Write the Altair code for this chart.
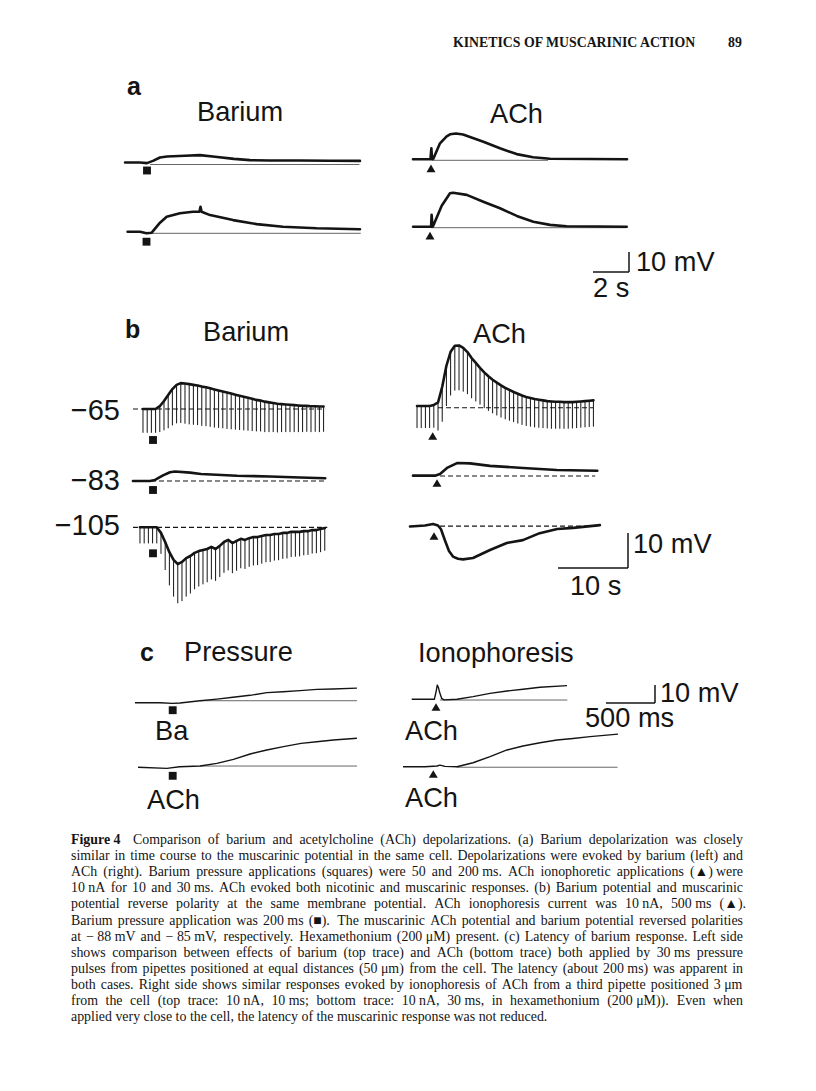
import altair as alt
import pandas as pd

# ======================= DATA =======================
# Traces: time (s) from stimulus onset, potential (mV) relative to resting level
# --- panel a
a_ba1_t = [-1.22, -0.39, 0.0, 0.33, 0.72, 1.11, 2.11, 2.94, 3.78, 4.83, 5.72, 6.83, 8.5, 10.17, 11.83]
a_ba1_v = [0, 0, -0.3, 0.8, 2.5, 3.0, 3.4, 3.7, 2.9, 1.8, 1.2, 1.0, 1.0, 0.9, 0.8]
a_ba2_t = [-1.05, -0.36, 0.0, 0.29, 0.75, 1.12, 1.86, 2.58, 2.94, 3.0, 3.06, 3.53, 4.81, 6.12, 7.58, 9.45, 11.86]
a_ba2_v = [0, 0, -0.8, -0.5, 4.5, 7.5, 9.2, 10.0, 10.0, 12.5, 10.0, 8.3, 5.8, 3.8, 2.5, 1.7, 1.2]
a_ach1_t = [-1.0, -0.11, -0.03, 0.02, 0.06, 0.13, 0.5, 0.87, 1.06, 1.39, 1.78, 2.91, 3.83, 4.76, 5.67, 6.61, 10.89]
a_ach1_v = [0, 0, 0, 5.5, 0, 0.3, 8.0, 11.5, 12.5, 12.9, 12.4, 8.8, 5.5, 2.6, 1.0, 0.3, 0]
a_ach2_t = [-0.94, 0.0, 0.06, 0.09, 0.14, 0.18, 0.65, 1.11, 1.28, 2.04, 2.96, 3.89, 4.82, 5.74, 6.67, 7.59, 10.93]
a_ach2_v = [0, 0, 0, 5.9, 0, 0.5, 10.5, 16.7, 17.0, 15.9, 12.5, 9.2, 5.4, 2.5, 0.9, 0.2, 0]

# --- panel b: traces with hyperpolarizing pulses (potential at each pulse, pulse amplitude)
PULSE_PERIOD = 0.6  # s
b_ba65_start = -1.43
b_ba65_v = [0, 0, 0, 0, 0.8, 2.3, 4.0, 5.7, 6.9, 7.4, 7.3, 7.1, 6.9, 6.7, 6.4, 6.2, 5.9, 5.6, 5.3, 5.0,
            4.7, 4.4, 4.1, 3.8, 3.5, 3.2, 2.9, 2.6, 2.4, 2.1, 1.9, 1.7, 1.5, 1.4, 1.3, 1.2, 1.1, 1.0,
            0.9, 0.9, 0.8, 0.8, 0.7, 0.7]
b_ba65_amp = [6.8, 6.8, 6.8, 6.8, 7.4, 8.4, 9.5, 10.4, 11.0, 11.4, 11.5, 11.5, 11.4, 11.3, 11.2, 11.1,
              11.0, 10.9, 10.7, 10.5, 10.4, 10.2, 10.0, 9.8, 9.6, 9.4, 9.2, 9.0, 8.8, 8.7, 8.5, 8.3,
              8.2, 8.0, 7.9, 7.8, 7.7, 7.6, 7.5, 7.4, 7.4, 7.3, 7.3, 7.2]
b_ba105_start = -1.86
b_ba105_v = [0, 0, 0, 0, 0, -1.6, -4.2, -7.1, -9.3, -10.5, -9.9, -8.8, -8.2, -7.3, -6.8, -6.5, -6.2,
             -5.6, -6.2, -5.3, -4.2, -3.6, -4.5, -3.9, -3.3, -3.6, -3.1, -2.8, -2.8, -2.5, -2.2, -2.2,
             -1.9, -1.9, -1.6, -1.6, -1.3, -1.3, -1.3, -1.1, -1.1, -0.8, -0.8, -0.5, -0.2]
b_ba105_amp = [4.6, 4.6, 4.6, 4.6, 4.6, 6.0, 8.0, 9.5, 10.5, 11.2, 11.2, 11.0, 10.7, 10.4, 10.1, 9.8,
               9.5, 9.3, 9.1, 8.9, 8.8, 8.7, 8.6, 8.5, 8.4, 8.3, 8.2, 8.1, 8.0, 7.9, 7.8, 7.7, 7.6,
               7.5, 7.4, 7.3, 7.2, 7.1, 7.0, 6.9, 6.8, 6.7, 6.6, 6.6, 6.5]
b_ach65_start = -2.24
b_ach65_v = [0, 0, 0, 0, 0.3, 1.0, 5.5, 11.5, 15.5, 17.2, 17.3, 16.6, 15.4, 13.7, 12.3, 10.9, 9.6,
             8.5, 7.5, 6.7, 5.9, 5.2, 4.6, 4.0, 3.5, 3.0, 2.6, 2.3, 2.0, 1.8, 1.6, 1.4, 1.3, 1.2, 1.2,
             1.1, 1.1, 1.1, 1.2, 1.3, 1.4, 1.5, 1.6]
b_ach65_amp = [6.3, 6.3, 6.3, 6.3, 6.5, 8.0, 10.0, 11.5, 12.5, 12.8, 12.8, 12.5, 12.0, 11.5, 11.0,
               10.5, 10.2, 9.9, 9.6, 9.4, 9.2, 9.0, 8.8, 8.6, 8.5, 8.4, 8.3, 8.2, 8.1, 8.0, 7.9, 7.8,
               7.8, 7.7, 7.7, 7.6, 7.6, 7.5, 7.5, 7.5, 7.5, 7.5, 7.5]
b_ba83_t = [-2.86, -0.43, 0.29, 1.43, 2.43, 3.14, 5.3, 6.86, 12.0, 16.7, 21.0, 24.6]
b_ba83_v = [0, 0, 0.3, 1.6, 2.5, 2.7, 2.4, 2.0, 1.5, 1.3, 1.0, 0.8]
b_ach83_t = [-3.43, -0.29, 0.43, 1.43, 2.86, 4.71, 7.57, 12.3, 17.1, 22.9]
b_ach83_v = [0.1, 0.1, 0.6, 2.3, 3.7, 3.6, 2.9, 2.3, 1.7, 1.5]
b_ach105_t = [-3.43, -1.29, -0.14, 0.57, 1.0, 1.57, 2.14, 2.71, 3.43, 4.14, 5.57, 8.0, 10.4, 12.7, 15.1, 17.6, 19.9, 23.7]
b_ach105_v = [0, 0.3, 0.7, 0.3, -0.8, -4.0, -7.0, -8.6, -9.2, -9.4, -9.0, -6.7, -4.7, -3.9, -1.9, -0.7, -0.4, 0.4]

# --- panel c
c_ba_t = [-0.385, -0.13, 0.0, 0.074, 0.279, 0.452, 0.615, 0.789, 0.962, 1.126, 1.299, 1.472, 1.636, 1.88]
c_ba_v = [0, 0, -0.4, -0.2, 1.1, 2.0, 3.0, 4.1, 5.6, 6.1, 6.7, 7.4, 7.6, 8.1]
c_ach_t = [-0.354, -0.06, 0.07, 0.28, 0.45, 0.62, 0.79, 0.96, 1.13, 1.31, 1.47, 1.64, 1.88]
c_ach_v = [0, -0.6, 0.3, 0.7, 2.2, 4.4, 7.4, 9.6, 11.5, 13.3, 14.2, 15.2, 16.1]
c_io1_t = [-0.248, -0.061, -0.017, 0.0, 0.013, 0.025, 0.036, 0.058, 0.082, 0.214, 0.378, 0.551, 0.724, 0.888, 1.061, 1.337]
c_io1_v = [0, 0, 0, 4.0, 7.9, 6.5, 4.0, 0.5, -0.3, 0, 1.5, 3.3, 4.6, 5.6, 6.7, 7.6]
c_io2_t = [-0.309, -0.085, 0.038, 0.068, 0.119, 0.242, 0.405, 0.579, 0.752, 0.915, 1.089, 1.262, 1.426, 1.599, 1.885]
c_io2_v = [0, 0, 0.4, 0.9, 0.2, 0, 2.2, 5.6, 9.3, 11.5, 13.3, 14.8, 15.7, 16.7, 18.1]

# reference lines: (trace, t start, t end, level mV)
dashed_refs = [("b_ba65", -2.86, 24.6, 0), ("b_ba83", -2.57, 24.6, 0), ("b_ba105", -2.86, 24.9, 0),
               ("b_ach65", 0.76, 22.9, -0.5), ("b_ach83", 0.43, 22.6, 0), ("b_ach105", 0.86, 23.7, 0.1)]
solid_refs = [("a_ba1", 0.17, 11.8, -1.0), ("a_ba2", 0.2, 11.9, -0.8), ("a_ach1", 0.06, 6.5, -0.5),
              ("a_ach2", 0.06, 10.9, -0.5), ("c_ba", 0.28, 1.88, 1.1), ("c_ach", 0.28, 1.88, 0.7),
              ("c_io1", 0.04, 1.34, -0.4), ("c_io2", 0.24, 1.88, -0.3)]
# stimulus: square = pressure (barium), triangle = ionophoresis (ACh)
stim_shape = {"a_ba1": "square", "a_ba2": "square", "a_ach1": "triangle-up", "a_ach2": "triangle-up",
              "b_ba65": "square", "b_ba83": "square", "b_ba105": "square",
              "b_ach65": "triangle-up", "b_ach83": "triangle-up", "b_ach105": "triangle-up",
              "c_ba": "square", "c_ach": "square", "c_io1": "triangle-up", "c_io2": "triangle-up"}
# calibration bars (s, mV)
scalebars = {"a": (2.0, 10.0), "b": (10.0, 10.0), "c": (0.5, 10.0)}

panel_letters = ["a", "b", "c"]
titles = ["Barium", "ACh", "Barium", "ACh", "Pressure", "Ionophoresis"]
holding = ["\u221265", "\u221283", "\u2212105"]
bar_labels = ["10 mV", "2 s", "10 mV", "10 s", "10 mV", "500 ms"]
c_labels = ["Ba", "ACh", "ACh", "ACh"]
header = ["KINETICS OF MUSCARINIC ACTION", "89"]
caption_head = "Figure 4"
caption_lines = [
    "Comparison of barium and acetylcholine (ACh) depolarizations. (a) Barium depolarization was closely",
    "similar in time course to the muscarinic potential in the same cell. Depolarizations were evoked by barium (left) and",
    "ACh (right). Barium pressure applications (squares) were 50 and 200\u2009ms. ACh ionophoretic applications (\u25b2) were",
    "10\u2009nA for 10 and 30\u2009ms. ACh evoked both nicotinic and muscarinic responses. (b) Barium potential and muscarinic",
    "potential reverse polarity at the same membrane potential. ACh ionophoresis current was 10\u2009nA, 500\u2009ms (\u25b2).",
    "Barium pressure application was 200\u2009ms (\u25a0). The muscarinic ACh potential and barium potential reversed polarities",
    "at \u2212\u200988\u2009mV and \u2212\u200985\u2009mV, respectively. Hexamethonium (200\u2009\u03bcM) present. (c) Latency of barium response. Left side",
    "shows comparison between effects of barium (top trace) and ACh (bottom trace) both applied by 30\u2009ms pressure",
    "pulses from pipettes positioned at equal distances (50\u2009\u03bcm) from the cell. The latency (about 200\u2009ms) was apparent in",
    "both cases. Right side shows similar responses evoked by ionophoresis of ACh from a third pipette positioned 3\u2009\u03bcm",
    "from the cell (top trace: 10\u2009nA, 10\u2009ms; bottom trace: 10\u2009nA, 30\u2009ms, in hexamethonium (200\u2009\u03bcM)). Even when",
    "applied very close to the cell, the latency of the muscarinic response was not reduced.",
]

# ======================= LAYOUT =======================
PANEL_SCALE = {"a": (18.0, 2.0), "b": (7.0, 3.5), "c": (98.0, 1.8)}  # px per s, px per mV
ANCHOR = {  # panel, page x of stimulus, page y of resting level
    "a_ba1": ("a", 147.0, 162.5), "a_ba2": ("a", 146.5, 231.7),
    "a_ach1": ("a", 431.0, 159.3), "a_ach2": ("a", 430.0, 226.7),
    "b_ba65": ("b", 153.0, 409.0), "b_ba83": ("b", 153.0, 481.0), "b_ba105": ("b", 153.0, 527.3),
    "b_ach65": ("b", 432.7, 406.0), "b_ach83": ("b", 437.0, 476.0), "b_ach105": ("b", 434.0, 526.5),
    "c_ba": ("c", 172.7, 702.7), "c_ach": ("c", 172.7, 767.3),
    "c_io1": ("c", 436.0, 699.3), "c_io2": ("c", 433.3, 766.7),
}
MARK_DROP = {"a_ba1": 8, "a_ba2": 10, "a_ach1": 9, "a_ach2": 9, "b_ba65": 31, "b_ba83": 9,
             "b_ba105": 26, "b_ach65": 30, "b_ach83": 7, "b_ach105": 9.5,
             "c_ba": 7.5, "c_ach": 8.5, "c_io1": 7.7, "c_io2": 7.3}
BAR_CORNER = {"a": (629, 272), "b": (628, 568), "c": (655, 703)}
SANS = "Liberation Sans, Arial, Helvetica, sans-serif"
SERIF = "Liberation Serif, Times New Roman, serif"


def page(key, t, v):
    p, x0, y0 = ANCHOR[key]
    sx, sy = PANEL_SCALE[p]
    return x0 + t * sx, y0 - v * sy


traces = {
    "a_ba1": (a_ba1_t, a_ba1_v), "a_ba2": (a_ba2_t, a_ba2_v),
    "a_ach1": (a_ach1_t, a_ach1_v), "a_ach2": (a_ach2_t, a_ach2_v),
    "b_ba83": (b_ba83_t, b_ba83_v), "b_ach83": (b_ach83_t, b_ach83_v), "b_ach105": (b_ach105_t, b_ach105_v),
    "c_ba": (c_ba_t, c_ba_v), "c_ach": (c_ach_t, c_ach_v), "c_io1": (c_io1_t, c_io1_v), "c_io2": (c_io2_t, c_io2_v),
}
pulsed = {"b_ba65": (b_ba65_start, b_ba65_v, b_ba65_amp),
          "b_ba105": (b_ba105_start, b_ba105_v, b_ba105_amp),
          "b_ach65": (b_ach65_start, b_ach65_v, b_ach65_amp)}

line_rows, pulse_rows = [], []
for key, (ts, vs) in traces.items():
    for i, (t, v) in enumerate(zip(ts, vs)):
        x, y = page(key, t, v)
        line_rows.append({"key": key, "i": i, "x": x, "y": y, "thin": key.startswith("c_")})
for key, (t0, vs, amps) in pulsed.items():
    for i, (v, a) in enumerate(zip(vs, amps)):
        t = t0 + i * PULSE_PERIOD
        x, y = page(key, t, v)
        _, y2 = page(key, t, v - a)
        line_rows.append({"key": key, "i": i, "x": x, "y": y, "thin": False})
        pulse_rows.append({"x": x, "y": y, "y2": y2})
lines_df = pd.DataFrame(line_rows)
pulse_df = pd.DataFrame(pulse_rows)


def ref_df(refs):
    rows = []
    for key, ta, tb, lv in refs:
        xa, y = page(key, ta, lv)
        xb, _ = page(key, tb, lv)
        rows.append({"x": xa, "x2": xb, "y": y})
    return pd.DataFrame(rows)


dash_df = ref_df(dashed_refs)
solid_df = ref_df(solid_refs)

mark_rows = []
for key, shp in stim_shape.items():
    x, y = page(key, 0.0, 0.0)
    mark_rows.append({"x": x, "y": y + MARK_DROP[key], "shape": shp,
                      "sz": 62 if shp == "square" else 80})
mark_df = pd.DataFrame(mark_rows)

bar_rows = []
for p, (sec, mv) in scalebars.items():
    cx, cy = BAR_CORNER[p]
    sx, sy = PANEL_SCALE[p]
    bar_rows.append({"x": cx - sec * sx, "y": cy, "x2": cx, "y2": cy})
    bar_rows.append({"x": cx, "y": cy, "x2": cx, "y2": cy - mv * sy})
bar_df = pd.DataFrame(bar_rows)

# text placements (left x, baseline y)
sans_pos = [(197, 121), (490, 123), (203, 341), (473, 343), (184, 661), (418, 662)]
bar_pos = [(636, 271), (593, 297), (633, 553), (570, 595), (660, 702), (585, 727)]
c_pos = [(155, 740), (147, 809), (405, 740), (405, 807)]
hold_pos = [(120, 420), (120, 490), (120, 535)]
letter_pos = [(127, 95), (125, 338), (140, 661)]
FS_SANS = 27.2

sans_rows = [{"x": p[0], "y": p[1], "text": s, "fs": FS_SANS} for s, p in zip(titles, sans_pos)]
sans_rows += [{"x": p[0], "y": p[1], "text": s, "fs": FS_SANS} for s, p in zip(bar_labels, bar_pos)]
sans_rows += [{"x": p[0], "y": p[1], "text": s, "fs": FS_SANS} for s, p in zip(c_labels, c_pos)]
sans_df = pd.DataFrame(sans_rows)
hold_df = pd.DataFrame([{"x": p[0], "y": p[1], "text": s, "fs": 29} for s, p in zip(holding, hold_pos)])
letter_df = pd.DataFrame([{"x": p[0], "y": p[1], "text": s, "fs": 25} for s, p in zip(panel_letters, letter_pos)])

# --- justified caption (Times/Liberation Serif advance widths, 1/1000 em)
TW = dict(zip("abcdefghijklmnopqrstuvwxyz",
              [444, 500, 444, 500, 444, 333, 500, 500, 278, 278, 500, 278, 778, 500, 500, 500, 500, 333,
               389, 278, 500, 500, 722, 500, 500, 444]))
TW.update(zip("ABCDEFGHIJKLMNOPQRSTUVWXYZ",
              [722, 667, 667, 722, 611, 556, 722, 722, 333, 389, 722, 611, 889, 722, 722, 556, 722, 667,
               556, 611, 722, 722, 944, 722, 722, 611]))
TW.update({c: 500 for c in "0123456789"})
TW.update({" ": 250, "(": 333, ")": 333, ".": 250, ",": 250, ":": 278, ";": 278, "-": 333,
           "\u2212": 564, "\u03bc": 576, "\u25b2": 770, "\u25a0": 770, "\u2009": 250})
CAP_L, CAP_R, CAP_Y0, CAP_DY, CAP_FIRST_X, CAP_FS = 71, 743, 844, 16.1, 133, 13.9


def wwidth(w):
    return sum(TW.get(ch, 500) for ch in w) * CAP_FS / 1000.0


cap_rows = []
for k, line in enumerate(caption_lines):
    words = line.split(" ")
    x0 = CAP_FIRST_X if k == 0 else CAP_L
    widths = [wwidth(w) for w in words]
    natural_gap = 0.25 * CAP_FS
    if k < len(caption_lines) - 1 and len(words) > 1:
        gap = (CAP_R - x0 - sum(widths)) / (len(words) - 1)
        gap = max(gap, 0.12 * CAP_FS)
    else:
        gap = natural_gap
    x = x0
    for w, wd in zip(words, widths):
        cap_rows.append({"x": x, "y": CAP_Y0 + k * CAP_DY, "text": w.replace("\u2009", " "), "fs": CAP_FS})
        x += wd + gap
cap_df = pd.DataFrame(cap_rows)
bold_serif_df = pd.DataFrame([
    {"x": 453, "y": 47, "text": header[0], "fs": 13.8},
    {"x": 728, "y": 47, "text": header[1], "fs": 13.8},
    {"x": CAP_L, "y": CAP_Y0, "text": caption_head, "fs": CAP_FS},
])

# ======================= CHART =======================
XS = alt.Scale(domain=[8, 808], nice=False, zero=False)
YS = alt.Scale(domain=[8, 1083], nice=False, zero=False, reverse=True)
INK = "#141414"


def X(f="x"):
    return alt.X(f"{f}:Q", scale=XS, axis=None)


def Y(f="y"):
    return alt.Y(f"{f}:Q", scale=YS, axis=None)


thick = alt.Chart(lines_df[~lines_df["thin"]]).mark_line(
    color=INK, strokeWidth=2.6, strokeJoin="round", strokeCap="round").encode(
    x=X(), y=Y(), detail="key:N", order="i:Q")
thin = alt.Chart(lines_df[lines_df["thin"]]).mark_line(
    color=INK, strokeWidth=1.4, strokeJoin="round").encode(
    x=X(), y=Y(), detail="key:N", order="i:Q")
pulses = alt.Chart(pulse_df).mark_rule(color=INK, strokeWidth=1.0).encode(
    x=X(), y=Y(), y2=alt.Y2("y2:Q"))
dashes = alt.Chart(dash_df).mark_rule(color=INK, strokeWidth=1.2, strokeDash=[5, 3]).encode(
    x=X(), x2=alt.X2("x2:Q"), y=Y())
solids = alt.Chart(solid_df).mark_rule(color="#555555", strokeWidth=0.9).encode(
    x=X(), x2=alt.X2("x2:Q"), y=Y())
bars = alt.Chart(bar_df).mark_rule(color=INK, strokeWidth=1.5).encode(
    x=X(), y=Y(), x2=alt.X2("x2:Q"), y2=alt.Y2("y2:Q"))
marks = alt.Chart(mark_df).mark_point(filled=True, opacity=1, color=INK).encode(
    x=X(), y=Y(), shape=alt.Shape("shape:N", scale=None), size=alt.Size("sz:Q", scale=None))


def text_layer(df, font, weight="normal", align="left"):
    return alt.Chart(df).mark_text(font=font, fontWeight=weight, align=align,
                                   baseline="alphabetic", color=INK).encode(
        x=X(), y=Y(), text="text:N", size=alt.Size("fs:Q", scale=None))


chart = alt.layer(
    solids, dashes, pulses, thick, thin, bars, marks,
    text_layer(sans_df, SANS),
    text_layer(hold_df, SANS, align="right"),
    text_layer(letter_df, SANS, weight="bold"),
    text_layer(cap_df, SERIF),
    text_layer(bold_serif_df, SERIF, weight="bold"),
).properties(width=800, height=1075, padding=0, background="white").configure_view(strokeWidth=0)

chart.save("out.html", embed_options={"renderer": "svg", "actions": False})
